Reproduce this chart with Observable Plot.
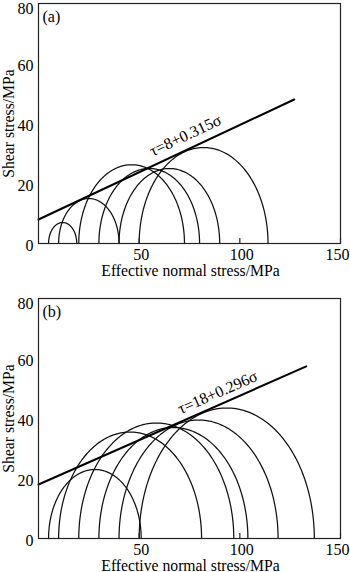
<!DOCTYPE html>
<html><head><meta charset="utf-8">
<script src="https://cdn.jsdelivr.net/npm/d3@7"></script>
<script src="https://cdn.jsdelivr.net/npm/@observablehq/plot@0.6"></script>
<style>
html,body{margin:0;padding:0;background:#fff;overflow:hidden;}
#chart svg{display:block;}
</style></head><body><div id="chart"></div>
<script>
// ---- data ----
const panels = ["(a)", "(b)"];
const sigma3A = [5, 10, 20, 30, 40, 50];          // minor principal stress, panel (a)
const sigma1A = [19, 40, 72.5, 80, 90, 114];       // major principal stress, panel (a)
const sigma3B = [5, 10, 20, 30, 40, 50];          // panel (b)
const sigma1B = [51, 81, 97, 104, 119, 137];
const cohesion = [8, 18];
const frictionCoef = [0.315, 0.296];
const lineEnd = [127, 133];
const labelSigma = [73, 89];
const equations = ["τ=8+0.315σ", "τ=18+0.296σ"];
const xTicksInner = [50, 100];
const xTicksEdge = [150];
const yTicks = [0, 20, 40, 60];
const yTicksTop = [80];
const xTitle = "Effective normal stress/MPa";
const yTitle = "Shear stress/MPa";
const FONT = '"Liberation Serif", "Times New Roman", serif';

function panel(k, s3, s1, height, marginBottom, labelDy) {
  const arcs = [];
  s3.forEach((a, i) => {
    const b = s1[i], c = (a + b) / 2, r = (b - a) / 2;
    for (let j = 0; j <= 120; j++) {
      const t = Math.PI * j / 120;
      arcs.push({id: i, x: c - r * Math.cos(t), y: r * Math.sin(t)});
    }
  });
  const env = [0, lineEnd[k]].map(s => ({x: s, y: cohesion[k] + frictionCoef[k] * s}));
  const lab = [{x: labelSigma[k], y: cohesion[k] + frictionCoef[k] * labelSigma[k], t: equations[k]}];
  const plotH = height - 3 - marginBottom;
  const pxSlope = frictionCoef[k] * (plotH / 80) / (302 / 150);
  const angle = -Math.atan(pxSlope) * 180 / Math.PI;
  const svg = Plot.plot({
    width: 350, height, marginTop: 3, marginLeft: 38, marginRight: 10, marginBottom,
    x: {domain: [0, 150]},
    y: {domain: [0, 80]},
    style: {fontFamily: FONT, fontSize: "16px", color: "#000", background: "#fff", overflow: "visible"},
    marks: [
      Plot.line(arcs, {x: "x", y: "y", z: "id", stroke: "#111", strokeWidth: 1.25}),
      Plot.line(env, {x: "x", y: "y", stroke: "#000", strokeWidth: 2}),
      Plot.text(lab, {x: "x", y: "y", text: "t", rotate: angle, dy: labelDy, fontSize: 16,
        textAnchor: "middle", lineAnchor: "middle", fill: "#000", ariaLabel: "equation"}),
      Plot.ruleX(xTicksInner.concat(xTicksEdge), {insetTop: plotH - 5, stroke: "#222", strokeWidth: 1.2}),
      Plot.frame({stroke: "#222", strokeWidth: 1.2}),
      Plot.axisY(yTicks, {tickSize: 0, tickPadding: 5, dy: 2.5, fontSize: 16, label: null, fill: "#000"}),
      Plot.axisY(yTicksTop, {tickSize: 0, tickPadding: 5, dy: 5.5, fontSize: 16, label: null, fill: "#000"}),
      Plot.axisX(xTicksInner, {tickSize: 0, tickPadding: 5, dx: 2, fontSize: 16, label: null, fill: "#000"}),
      Plot.axisX(xTicksEdge, {tickSize: 0, tickPadding: 5, dx: -3, fontSize: 16, label: null, fill: "#000"}),
      Plot.text([panels[k]], {frameAnchor: "top-left", dx: 4, dy: 13, textAnchor: "start", lineAnchor: "middle", fontSize: 16, fill: "#000"}),
      Plot.text([yTitle], {frameAnchor: "left", dx: -30, rotate: -90, textAnchor: "middle", lineAnchor: "middle", fontSize: 15.7, fill: "#000"}),
      Plot.text([xTitle], {frameAnchor: "bottom", dy: 27, dx: 1, textAnchor: "middle", lineAnchor: "middle", fontSize: 15.7, fill: "#000"})
    ]
  });
  svg.querySelectorAll('g[aria-label="equation"] text').forEach(t => {
    const s = t.textContent;
    t.textContent = "";
    [[s[0], true], [s.slice(1, -1), false], [s.slice(-1), true]].forEach(([str, it]) => {
      const ts = document.createElementNS("http://www.w3.org/2000/svg", "tspan");
      if (it) ts.setAttribute("font-style", "italic");
      ts.textContent = str;
      t.appendChild(ts);
    });
  });
  return svg;
}

const root = document.getElementById("chart");
root.appendChild(panel(0, sigma3A, sigma1A, 295, 52, -15));
root.appendChild(panel(1, sigma3B, sigma1B, 277, 34, -13));
</script></body></html>
